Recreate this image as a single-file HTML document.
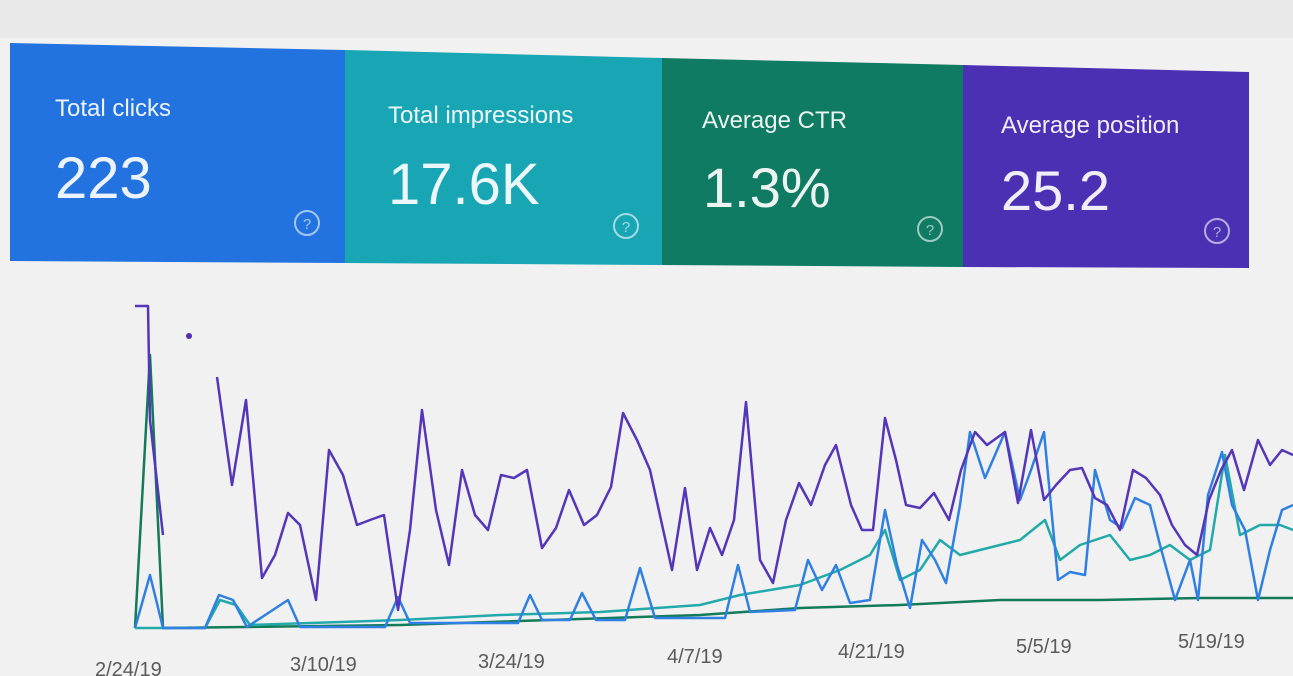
<!DOCTYPE html>
<html><head><meta charset="utf-8"><style>
html,body{margin:0;padding:0;background:#f2f2f2;}
svg{display:block;}
text{font-family:"Liberation Sans",sans-serif;}
</style></head><body>
<svg width="1293" height="676" viewBox="0 0 1293 676">
<rect width="1293" height="676" fill="#f1f1f1"/>
<rect width="1293" height="38" fill="#e9e9e9"/>
<polygon points="10,43 345,50 345,263 10,261" fill="#2272e0"/>
<polygon points="345,50 662,58 662,265 345,263" fill="#18a5b4"/>
<polygon points="662,58 963,65 963,267 662,265" fill="#0f7b62"/>
<polygon points="963,65 1249,72 1249,268 963,267" fill="#4b30b4"/>
<g fill="#fff" opacity="0.92">
<text x="55" y="116" font-size="24">Total clicks</text>
<text x="55" y="198" font-size="58">223</text>
<text x="388" y="123" font-size="24">Total impressions</text>
<text x="388" y="204" font-size="58">17.6K</text>
<text x="702" y="128" font-size="24">Average CTR</text>
<text x="703" y="207" font-size="56">1.3%</text>
<text x="1001" y="133" font-size="24">Average position</text>
<text x="1001" y="210" font-size="56">25.2</text>
</g>
<g fill="none" stroke="#fff" stroke-opacity="0.6" stroke-width="2">
<circle cx="307" cy="223" r="12"/><circle cx="626" cy="226" r="12"/>
<circle cx="930" cy="229" r="12"/><circle cx="1217" cy="231" r="12"/>
</g>
<g fill="#fff" fill-opacity="0.6" font-size="15" text-anchor="middle">
<text x="307" y="229">?</text><text x="626" y="232">?</text><text x="930" y="235">?</text><text x="1217" y="237">?</text>
</g>
<circle cx="189" cy="336" r="3" fill="#4b30b4"/>
<g fill="none" stroke-width="2.5" stroke-linejoin="round">
<polyline stroke="#137a5a" points="135,628 150,355 163,628 400,625 700,615 800,608 900,605 1000,600 1100,600 1200,598 1293,598"/>
<polyline stroke="#22a9a9" points="135,628 205,628 220,600 236,605 250,625 400,620 500,615 600,612 700,605 740,595 770,590 800,585 840,570 870,555 885,530 900,580 920,570 940,540 960,555 980,550 1000,545 1020,540 1045,520 1060,560 1080,545 1095,540 1110,535 1130,560 1150,555 1170,545 1190,560 1210,550 1225,455 1240,535 1260,525 1280,525 1293,530"/>
<polyline stroke="#2f80e2" points="135,628 150,575 163,628 205,628 219,595 233,600 247,627 288,600 300,627 385,627 398,597 410,623 518,623 530,595 542,620 570,620 582,593 596,620 625,620 640,568 655,618 725,618 738,565 750,612 795,610 808,560 822,590 836,565 850,603 870,600 885,510 897,565 910,608 922,540 935,560 946,583 960,505 970,432 985,478 1005,432 1020,500 1031,470 1044,432 1058,580 1070,572 1085,575 1095,470 1110,520 1122,528 1135,498 1150,505 1160,545 1175,600 1190,560 1198,600 1208,495 1222,452 1232,505 1245,530 1258,600 1270,550 1282,510 1293,505"/>
<polyline stroke="#5436b8" points="135,306 148,306 150,420 163,535"/>
<polyline stroke="#5436b8" points="217,377 232,485 246,400 262,578 275,555 288,513 300,525 316,600 329,450 343,475 357,525 370,520 384,515 398,610 410,530 422,410 436,510 449,565 462,470 475,515 488,530 501,475 514,478 527,470 542,548 556,528 569,490 584,525 597,515 611,487 623,413 637,440 650,470 672,570 685,488 697,570 710,528 722,555 734,520 746,402 760,560 773,583 786,520 799,483 811,505 825,465 836,445 851,505 862,530 873,530 885,418 896,460 906,505 920,508 934,493 949,520 961,470 975,432 987,445 1005,432 1018,503 1031,430 1044,500 1056,485 1070,470 1082,468 1095,498 1107,505 1120,530 1133,470 1146,478 1160,495 1172,525 1185,545 1197,555 1209,500 1221,470 1232,450 1244,490 1258,440 1270,465 1282,450 1293,455"/>
</g>
<g fill="#5a5a5a" font-size="20">
<text x="95" y="676">2/24/19</text>
<text x="290" y="671">3/10/19</text>
<text x="478" y="668">3/24/19</text>
<text x="667" y="663">4/7/19</text>
<text x="838" y="658">4/21/19</text>
<text x="1016" y="653">5/5/19</text>
<text x="1178" y="648">5/19/19</text>
</g>
</svg>
</body></html>
